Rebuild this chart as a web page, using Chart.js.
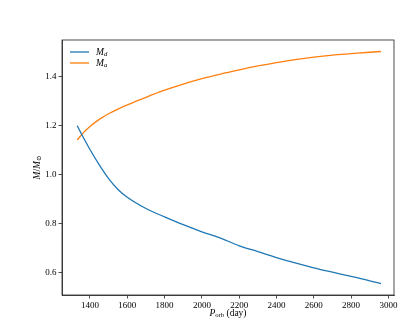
<!DOCTYPE html>
<html>
<head>
<meta charset="utf-8">
<script src="https://cdn.jsdelivr.net/npm/chart.js@4.4.1/dist/chart.umd.min.js"></script>
<style>
  html, body { margin: 0; padding: 0; background: #fff; }
  #wrap { width: 415px; height: 332px; }
</style>
</head>
<body>
<div id="wrap"><canvas id="massChart" width="415" height="332"></canvas></div>
<script>
// orbital period (day) and masses (solar units)
const periods   = [1332, 1360, 1400, 1450, 1500, 1550, 1600, 1700, 1800, 1900, 2000, 2100, 2200, 2300, 2400, 2500, 2600, 2700, 2800, 2900, 2960];
const mDonor    = [1.200, 1.158, 1.103, 1.040, 0.984, 0.940, 0.908, 0.862, 0.828, 0.796, 0.767, 0.741, 0.710, 0.686, 0.662, 0.640, 0.620, 0.602, 0.585, 0.567, 0.555];
const mAccretor = [1.142, 1.168, 1.197, 1.226, 1.249, 1.268, 1.285, 1.316, 1.345, 1.370, 1.392, 1.411, 1.428, 1.444, 1.458, 1.470, 1.480, 1.488, 1.494, 1.500, 1.503];
const xTicks = [1400, 1600, 1800, 2000, 2200, 2400, 2600, 2800, 3000];
const yTicks = [0.6, 0.8, 1.0, 1.2, 1.4];

const BLUE = '#1f77b4';
const ORANGE = '#ff7f0e';
const SERIF = "'Liberation Serif', 'DejaVu Serif', serif";

function pts(ys) {
    return periods.map((p, i) => ({ x: p, y: ys[i] }));
}

// draws text with subscript parts: [[text, isSub, isItalic], ...]
function drawRich(c, parts, x, y, size, align) {
    let total = 0;
    parts.forEach(([t, sub, italic]) => {
        c.font = (italic ? 'italic ' : '') + (sub ? size * 0.7 : size) + 'px ' + SERIF;
        total += c.measureText(t).width;
    });
    let cx = align === 'center' ? x - total / 2 : x;
    parts.forEach(([t, sub, italic]) => {
        c.font = (italic ? 'italic ' : '') + (sub ? size * 0.7 : size) + 'px ' + SERIF;
        c.fillText(t, cx, sub ? y + size * 0.22 : y);
        cx += c.measureText(t).width;
    });
}

const frame = {
    id: 'frame',
    afterDraw(chart) {
        const c = chart.ctx;
        const a = chart.chartArea;
        c.save();
        c.strokeStyle = '#222';
        c.lineWidth = 0.8;
        c.strokeRect(a.left, a.top, a.right - a.left, a.bottom - a.top);

        c.fillStyle = '#000';
        c.textBaseline = 'middle';
        c.textAlign = 'left';
        // legend
        const items = [[BLUE, 'd'], [ORANGE, 'a']];
        items.forEach(([col, s], i) => {
            const y = a.top + 12 + i * 11;
            c.strokeStyle = col;
            c.lineWidth = 1.3;
            c.beginPath();
            c.moveTo(a.left + 8, y);
            c.lineTo(a.left + 27, y);
            c.stroke();
            drawRich(c, [['M', false, true], [s, true, true]], a.left + 34, y, 9.5, 'left');
        });

        // x title
        drawRich(c, [['P', false, true], ['orb', true, false], [' (day)', false, false]],
            (a.left + a.right) / 2, 313, 9.5, 'center');

        // y title
        c.translate(37, (a.top + a.bottom) / 2);
        c.rotate(-Math.PI / 2);
        drawRich(c, [['M', false, true], ['/', false, false], ['M', false, true], ['\u2299', true, false]],
            0, 0, 9.5, 'center');
        c.restore();
    }
};

new Chart(document.getElementById('massChart'), {
    type: 'line',
    data: {
        datasets: [
            { label: 'M_d', data: pts(mDonor), borderColor: BLUE, borderWidth: 1.3, pointRadius: 0, cubicInterpolationMode: 'monotone', fill: false },
            { label: 'M_a', data: pts(mAccretor), borderColor: ORANGE, borderWidth: 1.3, pointRadius: 0, cubicInterpolationMode: 'monotone', fill: false }
        ]
    },
    options: {
        responsive: false,
        animation: false,
        layout: { padding: { left: 0, top: 40, right: 21, bottom: 0 } },
        plugins: { legend: { display: false }, tooltip: { enabled: false } },
        scales: {
            x: {
                type: 'linear',
                min: 1250,
                max: 3030,
                afterBuildTicks: s => { s.ticks = xTicks.map(v => ({ value: v })); },
                afterFit: s => { s.height = 37; },
                grid: { drawOnChartArea: false, drawTicks: true, tickLength: 3.5, tickColor: '#222', lineWidth: 0.8 },
                border: { display: true, color: '#222', width: 0.8 },
                ticks: { color: '#000', font: { family: SERIF, size: 9 }, padding: 2, maxRotation: 0, callback: v => String(v) }
            },
            y: {
                min: 0.509,
                max: 1.55,
                afterBuildTicks: s => { s.ticks = yTicks.map(v => ({ value: v })); },
                afterFit: s => { s.width = 62; },
                grid: { drawOnChartArea: false, drawTicks: true, tickLength: 3.5, tickColor: '#222', lineWidth: 0.8 },
                border: { display: true, color: '#222', width: 0.8 },
                ticks: { color: '#000', font: { family: SERIF, size: 9 }, padding: 2, callback: v => v.toFixed(1) }
            }
        }
    },
    plugins: [frame]
});
</script>
</body>
</html>
